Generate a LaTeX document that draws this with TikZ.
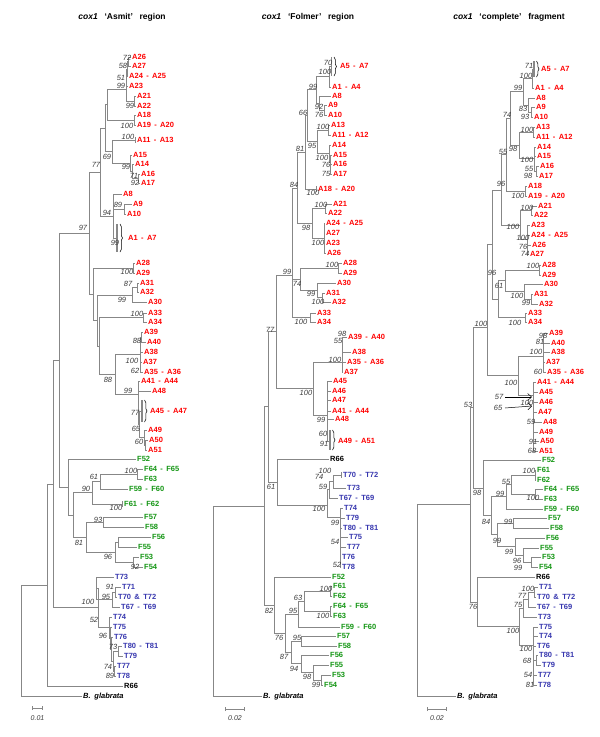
\documentclass[tikz,border=0pt]{standalone}
\usepackage{fontspec}
\setmainfont{Liberation Sans}
\usetikzlibrary{decorations.pathreplacing,arrows.meta}
\definecolor{lred}{RGB}{255,0,0}
\definecolor{lgreen}{RGB}{20,150,20}
\definecolor{lblue}{RGB}{55,55,175}
\definecolor{lgrey}{RGB}{135,135,135}
\definecolor{bsgrey}{RGB}{60,60,60}
\newcommand\dd{\hspace{0.45em}-\hspace{0.45em}}
\newcommand\br[2]{\foreach \q in {#2}{\draw[brl] (#1) |- (\q);}}
\newcommand\leaves[2]{\foreach \nm/\x/\y/\txt in {#2}{\coordinate (\nm) at ({\x-1.5},\y); \node[lab,#1,anchor=west] (\nm-l) at (\nm) {\txt};}}
\newcommand\boots[2]{\foreach \x/\y/\txt [count=\i] in {#2}{\node[bs] (#1\i) at (\x,\y) {\txt};}}
\begin{document}
\begin{tikzpicture}[x=1pt,y=-1pt,
  brl/.style={draw=lgrey,line width=0.6pt},
  lab/.style={font=\fontsize{7.5}{8}\selectfont\bfseries,inner xsep=1.5pt,inner ysep=0pt,text height=5.4pt,text depth=0pt},
  bs/.style={font=\fontsize{7.5}{8}\selectfont\itshape,text=bsgrey,inner sep=0pt},
  ttl/.style={font=\fontsize{8.5}{10}\selectfont\bfseries,inner sep=0pt},
  bar/.style={draw=lgrey,line width=1.4pt},
  brc/.style={draw=black,line width=0.5pt,decorate,decoration={brace,amplitude=2.5pt}},
  tick/.style={draw=lgrey,line width=0.6pt},
  sbar/.style={draw=lgrey,line width=0.6pt,{Bar[width=4pt]}-{Bar[width=4pt]}},
  sbl/.style={font=\fontsize{7}{8}\selectfont\itshape,text=bsgrey,inner sep=0pt},
  arw/.style={draw=black,line width=0.5pt,-{Straight Barb[length=4pt,width=7pt]}}]
\fill[white] (0,0) rectangle (600,737);
\useasboundingbox (0,0) rectangle (600,737);

% ---------------- titles
\node[ttl] (title1) at (122,17) {\textit{cox1}\hspace{0.8em}‘Asmit’\hspace{0.8em}region};
\node[ttl] (title2) at (308,17) {\textit{cox1}\hspace{0.8em}‘Folmer’\hspace{0.8em}region};
\node[ttl] (title3) at (509,17) {\textit{cox1}\hspace{0.8em}‘complete’\hspace{0.8em}fragment};

% ================= TREE 1
\leaves{text=lred}{aA26/132/57/A26, aA27/132/66/A27, aA24/129/76/{A24\dd A25}, aA23/129/86/A23, aA21/137/96/A21, aA22/137/106/A22, aA18/137/115/A18, aA19/137/125/{A19\dd A20}, aA11/137/140/{A11\dd A13}, aA15/133/155/A15, aA14/135/164/A14, aA16/141/174/A16, aA17/141/183/A17, aA8/123/194/A8, aA9/133/204/A9, aA10/127/214/A10, aA28/136/263/A28, aA29/136/273/A29, aA31/140/283/A31, aA32/140/292/A32, aA30/148/302/A30, aA33/148/313/A33, aA34/148/322/A34, aA39/144/332/A39, aA40/147/342/A40, aA38/144/352/A38, aA37/143/362/A37, aA35/144/372/{A35\dd A36}, aA41/141/381/{A41\dd A44}, aA48/152/391/A48, aA49/148/430/A49, aA50/149/440/A50, aA51/148/450/A51}
\leaves{text=lgreen}{aF52/137/459/F52, aF64/144/469/{F64\dd F65}, aF63/144/479/F63, aF59/129/489/{F59\dd F60}, aF61/124/504/{F61\dd F62}, aF57/144/517/F57, aF58/145/527/F58, aF56/152/537/F56, aF55/138/547/F55, aF53/140/557/F53, aF54/144/567/F54}
\leaves{text=lblue}{aT73/115/577/T73, aT71/122/587/T71, aT70/118/597/{T70\hspace{0.45em}\&\hspace{0.45em}T72}, aT67/121/607/{T67\dd T69}, aT74/113/617/T74, aT75/113/627/T75, aT76/114/637/T76, aT80/123/646/{T80\dd T81}, aT79/124/656/T79, aT77/117/666/T77, aT78/117/676/T78}
\leaves{text=black}{aR66/124/686/R66, aBg/83/696/{\itshape B.\hspace{0.5em}glabrata}}
% collapsed clades
\coordinate (aA1) at (117,238);
\coordinate (aA1t) at (117,224); \coordinate (aA1b) at (117,252);
\coordinate (aA1u) at (120,224); \coordinate (aA1d) at (120,252);
\draw[bar] (aA1t) -- (aA1b); \draw[brc] (aA1u) -- (aA1d);
\node[lab,text=lred,anchor=west] (aA1-l) at (126.5,238) {A1\dd A7};
\coordinate (aA45) at (142,411);
\coordinate (aA45t) at (142,400); \coordinate (aA45b) at (142,422);
\coordinate (aA45u) at (144.5,400); \coordinate (aA45d) at (144.5,422);
\draw[bar] (aA45t) -- (aA45b); \draw[brc] (aA45u) -- (aA45d);
\node[lab,text=lred,anchor=west] (aA45-l) at (148.5,411) {A45\dd A47};
\coordinate (aA11t) at (135.5,137); \coordinate (aA11b) at (135.5,143); \draw[tick] (aA11t) -- (aA11b);
\coordinate (aF61t) at (122.5,501); \coordinate (aF61b) at (122.5,507); \draw[tick] (aF61t) -- (aF61b);
% internal nodes
\coordinate (ata) at (128.5,61.5); \coordinate (atb) at (127,69); \coordinate (atc) at (126.5,77.5);
\coordinate (atA21) at (134.5,101); \coordinate (atd) at (126,89); \coordinate (ate) at (134,120);
\coordinate (atf) at (107,104.5); \coordinate (an1) at (138.5,178.5); \coordinate (an2) at (132.5,171.25);
\coordinate (an3) at (130,163.1); \coordinate (an4) at (112,151.5); \coordinate (atg) at (105,128);
\coordinate (atA9) at (124,209); \coordinate (atH) at (113,216); \coordinate (at77) at (100,172);
\coordinate (auA) at (133,268); \coordinate (auB) at (137,287.5); \coordinate (auC) at (132,295);
\coordinate (auD) at (143,317.5); \coordinate (auE) at (141.5,337); \coordinate (auF) at (140,354.5);
\coordinate (avA1) at (145.5,445); \coordinate (avA) at (144,437.5); \coordinate (avC) at (139.5,424);
\coordinate (avD) at (138.5,407.5); \coordinate (avE) at (138,394); \coordinate (avF) at (115,374);
\coordinate (avG) at (99,346); \coordinate (awA) at (97,320.5); \coordinate (awB) at (93,294);
\coordinate (at97) at (89,233);
\coordinate (afA) at (137,474); \coordinate (afB) at (100,481.5); \coordinate (afC) at (92,492.75);
\coordinate (afD) at (103,522); \coordinate (afE) at (118,542); \coordinate (afF) at (133,562);
\coordinate (afG) at (115,552); \coordinate (afH) at (86,537); \coordinate (afI) at (73,515);
\coordinate (afJ) at (68,487); \coordinate (aZ) at (59,360);
\coordinate (agA) at (115,592); \coordinate (agB) at (112,599.5); \coordinate (agC) at (96,588);
\coordinate (agD) at (118,651); \coordinate (agE) at (114.5,671); \coordinate (agF) at (113,661);
\coordinate (agG) at (111.5,649); \coordinate (agH) at (110.5,638); \coordinate (agI) at (109.5,627.5);
\coordinate (agJ) at (98,607.75); \coordinate (aY) at (53,484); \coordinate (aX) at (47,585);
\coordinate (aR1) at (21,640.5);
\br{ata}{aA26,aA27} \br{atb}{ata,aA24} \br{atc}{atb,aA23} \br{atA21}{aA21,aA22}
\br{atd}{atc,atA21} \br{ate}{aA18,aA19} \br{atf}{atd,ate} \br{an1}{aA16,aA17}
\br{an2}{aA14,an1} \br{an3}{aA15,an2} \br{an4}{aA11,an3} \br{atg}{atf,an4}
\br{atA9}{aA9,aA10} \br{atH}{aA8,atA9,aA1} \br{at77}{atg,atH}
\br{auA}{aA28,aA29} \br{auB}{aA31,aA32} \br{auC}{auB,aA30} \br{auD}{aA33,aA34}
\br{auE}{aA39,aA40} \br{auF}{auE,aA38,aA37,aA35} \br{avA1}{aA50,aA51} \br{avA}{aA49,avA1}
\br{avC}{aA45,avA} \br{avD}{aA48,avC} \br{avE}{aA41,avD} \br{avF}{auF,avE}
\br{avG}{auD,avF} \br{awA}{auC,avG} \br{awB}{auA,awA} \br{at97}{at77,awB}
\br{afA}{aF64,aF63} \br{afB}{afA,aF59} \br{afC}{afB,aF61} \br{afD}{aF57,aF58}
\br{afE}{aF56,aF55} \br{afF}{aF53,aF54} \br{afG}{afE,afF} \br{afH}{afD,afG}
\br{afI}{afC,afH} \br{afJ}{aF52,afI} \br{aZ}{at97,afJ}
\br{agA}{aT71,aT70} \br{agB}{agA,aT67} \br{agC}{aT73,agB} \br{agD}{aT80,aT79}
\br{agE}{aT77,aT78} \br{agF}{agD,agE} \br{agG}{aT76,agF} \br{agH}{aT75,agG}
\br{agI}{aT74,agH} \br{agJ}{agC,agI} \br{aY}{aZ,agJ} \br{aX}{aY,aR66} \br{aR1}{aX,aBg}
\boots{abs}{127/58/72, 123/66/58, 121/78/51, 121/86/99, 130/106/99, 127/126/100, 128/137/100, 107/157/69, 96/165/77, 126/167/99, 134/176/71, 135/183/92, 118/205/89, 107/213/94, 83/228/97, 115/243/99, 127/272/100, 128/284/87, 122/300/99, 137/314/100, 137/341/88, 132/361/100, 135/371/62, 108/380/88, 128/391/99, 135/413/77, 136/429/65, 139/442/60, 131/471/100, 94/477/61, 86/489/90, 116/508/100, 98/520/93, 79/543/81, 108/557/96, 135/567/92, 110/587/91, 106/597/95, 88/602/100, 94/620/52, 103/636/96, 113/647/73, 108/667/74, 110/676/89}
\coordinate (s1a) at (32,708); \coordinate (s1b) at (43,708); \draw[sbar] (s1a) -- (s1b);
\node[sbl] (s1l) at (37.5,718) {0.01};

% ================= TREE 2
\leaves{text=lred}{bA1/332/87/{A1\dd A4}, bA8/332/96/A8, bA9/328/105/A9, bA10/328/115/A10, bA13/331/125/A13, bA11/332/135/{A11\dd A12}, bA14/332/145/A14, bA15/333/155/A15, bA16/333/164/A16, bA17/333/174/A17, bA18/318/189/{A18\dd A20}, bA21/333/204/A21, bA22/328/213/A22, bA24/326/223/{A24\dd A25}, bA27/326/233/A27, bA23/326/243/A23, bA26/327/253/A26, bA28/343/263/A28, bA29/343/273/A29, bA30/337/283/A30, bA31/326/293/A31, bA32/332/302/A32, bA33/317/313/A33, bA34/317/322/A34, bA39/348/337/{A39\dd A40}, bA38/352/352/A38, bA35/347/362/{A35\dd A36}, bA37/344/372/A37, bA45/333/381/A45, bA46/332/391/A46, bA47/332/400/A47, bA41/332/411/{A41\dd A44}, bA48/335/419/A48}
\leaves{text=black}{bR66/330/459/R66, bBg/263/696/{\itshape B.\hspace{0.5em}glabrata}}
\leaves{text=lblue}{bT70/343/475/{T70\dd T72}, bT73/347/488/T73, bT67/339/498/{T67\dd T69}, bT74/344/508/T74, bT79/346/518/T79, bT80/343/528/{T80\dd T81}, bT75/349/537/T75, bT77/347/547/T77, bT76/342/557/T76, bT78/342/567/T78}
\leaves{text=lgreen}{bF52/332/577/F52, bF61/333/586/F61, bF62/333/596/F62, bF64/333/606/{F64\dd F65}, bF63/333/616/F63, bF59/341/627/{F59\dd F60}, bF57/337/636/F57, bF58/338/646/F58, bF56/330/655/F56, bF55/330/665/F55, bF53/332/675/F53, bF54/324/685/F54}
\coordinate (bA5) at (331.5,66);
\coordinate (bA5t) at (331.5,57); \coordinate (bA5b) at (331.5,76);
\coordinate (bA5u) at (334,57); \coordinate (bA5d) at (334,76);
\draw[bar] (bA5t) -- (bA5b); \draw[brc] (bA5u) -- (bA5d);
\node[lab,text=lred,anchor=west] (bA5-l) at (338.5,66) {A5\dd A7};
\coordinate (bA49) at (330,441);
\coordinate (bA49t) at (330,430); \coordinate (bA49b) at (330,450);
\coordinate (bA49u) at (332.5,430); \coordinate (bA49d) at (332.5,450);
\draw[bar] (bA49t) -- (bA49b); \draw[brc] (bA49u) -- (bA49d);
\node[lab,text=lred,anchor=west] (bA49-l) at (336.5,441) {A49\dd A51};
\coordinate (bA18t) at (316.5,186); \coordinate (bA18b) at (316.5,192); \draw[tick] (bA18t) -- (bA18b);
\coordinate (bT70t) at (341.5,472); \coordinate (bT70b) at (341.5,478); \draw[tick] (bT70t) -- (bT70b);
\coordinate (ba14) at (329,76.5); \coordinate (ba910) at (324.5,110); \coordinate (ba8) at (319,103);
\coordinate (ba110) at (316,89.75); \coordinate (ba1312) at (328,130); \coordinate (ba1617) at (330.5,169);
\coordinate (ba15) at (330,162); \coordinate (ba14b) at (329.5,153.5); \coordinate (ba1117) at (317,141.75);
\coordinate (ba117) at (307,115.75); \coordinate (ba120) at (305,152.4); \coordinate (ba2122) at (325,208.5);
\coordinate (ba2327) at (324,238); \coordinate (ba2127) at (312,223.25); \coordinate (ba127) at (297,187.8);
\coordinate (bb28) at (338,268); \coordinate (bb31) at (322,297.5); \coordinate (bb30) at (317,290);
\coordinate (bb2830) at (300,279); \coordinate (bb33) at (310,317.5); \coordinate (baR) at (292,275);
\coordinate (bc35) at (342,362); \coordinate (bc41) at (327,415); \coordinate (bcR) at (313,388);
\coordinate (bac) at (276,331);
\coordinate (bd73) at (333,481.5); \coordinate (bd67) at (329,489.75); \coordinate (bd74) at (340,517);
\coordinate (btT) at (327,505); \coordinate (brt) at (277,482); \coordinate (bM) at (268,406.5);
\coordinate (be6162) at (330,591); \coordinate (be6365) at (330,611); \coordinate (be6165) at (304,601);
\coordinate (be59) at (298,614); \coordinate (be5758) at (301,641); \coordinate (be5354) at (321,680);
\coordinate (be55) at (313,672.5); \coordinate (be56) at (301,663.75); \coordinate (be87) at (291,652);
\coordinate (be76) at (285,633); \coordinate (beF) at (274,605); \coordinate (bN) at (264,506);
\coordinate (bR2) at (213,601);
\br{ba14}{bA5,bA1} \br{ba910}{bA9,bA10} \br{ba8}{bA8,ba910} \br{ba110}{ba14,ba8}
\br{ba1312}{bA13,bA11} \br{ba1617}{bA16,bA17} \br{ba15}{bA15,ba1617} \br{ba14b}{bA14,ba15}
\br{ba1117}{ba1312,ba14b} \br{ba117}{ba110,ba1117} \br{ba120}{ba117,bA18}
\br{ba2122}{bA21,bA22} \br{ba2327}{bA24,bA27,bA23,bA26} \br{ba2127}{ba2122,ba2327}
\br{ba127}{ba120,ba2127} \br{bb28}{bA28,bA29} \br{bb31}{bA31,bA32} \br{bb30}{bA30,bb31}
\br{bb2830}{bb28,bb30} \br{bb33}{bA33,bA34} \br{baR}{ba127,bb2830,bb33}
\br{bc35}{bA39,bA38,bA35,bA37} \br{bc41}{bA45,bA46,bA47,bA41,bA48,bA49} \br{bcR}{bc35,bc41}
\br{bac}{baR,bcR} \br{bd73}{bT70,bT73} \br{bd67}{bd73,bT67}
\br{bd74}{bT74,bT79,bT80,bT75,bT77,bT76,bT78} \br{btT}{bd67,bd74} \br{brt}{bR66,btT}
\br{bM}{bac,brt} \br{be6162}{bF61,bF62} \br{be6365}{bF64,bF63} \br{be6165}{be6162,be6365}
\br{be59}{be6165,bF59} \br{be5758}{bF57,bF58} \br{be5354}{bF53,bF54} \br{be55}{bF55,be5354}
\br{be56}{bF56,be55} \br{be87}{be5758,be56} \br{be76}{be59,be87} \br{beF}{bF52,be76}
\br{bN}{bM,beF} \br{bR2}{bN,bBg}
\boots{bbs}{328/63/70, 325/72/100, 313/87/99, 319/107/92, 319/115/76, 323/127/100, 312/146/95, 300/149/81, 322/158/100, 326/165/76, 326/174/75, 294/185/84, 313/193/100, 303/113/66, 321/205/100, 306/228/98, 318/243/100, 332/265/100, 287/272/99, 297/284/74, 311/294/99, 318/302/100, 301/322/100, 270/330/77, 342/334/98, 338/341/55, 335/360/100, 306/393/100, 321/420/99, 323/434/60, 324/444/91, 325/471/100, 319/477/74, 323/487/59, 271/487/61, 319/509/100, 335/523/99, 335/542/54, 337/565/52, 326/589/100, 298/598/63, 293/611/95, 269/611/82, 323/616/100, 279/638/76, 297/638/95, 284/657/87, 294/669/94, 307/677/98, 316/685/99}
\coordinate (s2a) at (225,709); \coordinate (s2b) at (245,709); \draw[sbar] (s2a) -- (s2b);
\node[sbl] (s2l) at (235,718) {0.02};

% ================= TREE 3
\leaves{text=lred}{cA1/535/88/{A1\dd A4}, cA8/536/98/A8, cA9/536/107/A9, cA10/534/117/A10, cA13/536/127/A13, cA11/536/137/{A11\dd A12}, cA14/537/147/A14, cA15/537/156/A15, cA16/540/166/A16, cA17/539/176/A17, cA18/528/186/A18, cA19/528/196/{A19\dd A20}, cA21/538/206/A21, cA22/534/215/A22, cA23/531/225/A23, cA24/531/235/{A24\dd A25}, cA26/532/245/A26, cA27/530/254/A27, cA28/542/265/A28, cA29/542/275/A29, cA30/544/284/A30, cA31/534/294/A31, cA32/539/304/A32, cA33/528/313/A33, cA34/528/322/A34, cA39/549/333/A39, cA40/551/343/A40, cA38/551/352/A38, cA37/546/362/A37, cA35/547/372/{A35\dd A36}, cA41/537/382/{A41\dd A44}, cA45/539/392/A45, cA46/539/402/A46, cA47/538/412/A47, cA48/543/422/A48, cA49/539/432/A49, cA50/540/441/A50, cA51/539/451/A51}
\leaves{text=lgreen}{cF52/542/460/F52, cF61/537/470/F61, cF62/537/480/F62, cF64/544/489/{F64\dd F65}, cF63/544/499/F63, cF59/544/509/{F59\dd F60}, cF57/548/518/F57, cF58/550/528/F58, cF56/546/538/F56, cF55/540/548/F55, cF53/542/557/F53, cF54/539/567/F54}
\leaves{text=black}{cR66/536/577/R66, cBg/457/696/{\itshape B.\hspace{0.5em}glabrata}}
\leaves{text=lblue}{cT71/539/587/T71, cT70/537/597/{T70\hspace{0.45em}\&\hspace{0.45em}T72}, cT67/537/607/{T67\dd T69}, cT73/538/617/T73, cT75/539/627/T75, cT74/539/636/T74, cT76/537/646/T76, cT80/539/655/{T80\dd T81}, cT79/542/665/T79, cT77/538/675/T77, cT78/538/685/T78}
\coordinate (cA5) at (534,69);
\coordinate (cA5t) at (534,61); \coordinate (cA5b) at (534,77);
\coordinate (cA5u) at (536.5,61); \coordinate (cA5d) at (536.5,77);
\draw[bar] (cA5t) -- (cA5b); \draw[brc] (cA5u) -- (cA5d);
\node[lab,text=lred,anchor=west] (cA5-l) at (539.5,69) {A5\dd A7};
\coordinate (cg14) at (532,78.5); \coordinate (cg910) at (531,112); \coordinate (cg8) at (528,105);
\coordinate (cg110) at (523,91.75); \coordinate (cg1311) at (533,132); \coordinate (cg1617) at (536,171);
\coordinate (cg1417) at (534,158); \coordinate (cg1117) at (519,145); \coordinate (cg117) at (510,118.4);
\coordinate (cg1820) at (525,191); \coordinate (cg120) at (506,154.7); \coordinate (cg2122) at (531,210.5);
\coordinate (cg2327) at (527.5,239.5); \coordinate (cg2127) at (520,225); \coordinate (cg127) at (501,190);
\coordinate (ch2829) at (539,270); \coordinate (ch3132) at (531,299); \coordinate (ch30) at (524,291.5);
\coordinate (ch2832) at (505,280.75); \coordinate (ch3334) at (525,317.5); \coordinate (ch2834) at (498,299);
\coordinate (cgA) at (492,244.5); \coordinate (ci35) at (543,356); \coordinate (ci41) at (533,395);
\coordinate (ci3551) at (518,375); \coordinate (cjA) at (487,327);
\coordinate (ck6162) at (535,475); \coordinate (ck6365) at (535,494); \coordinate (ck6165) at (511,484.5);
\coordinate (ck59) at (506,496.75); \coordinate (ck5758) at (513,523); \coordinate (ck5354) at (531,562);
\coordinate (ck55) at (523,555); \coordinate (ck56) at (515,546.5); \coordinate (ck5756) at (497,534.75);
\coordinate (ck84) at (491,515.75); \coordinate (ckF) at (483,488); \coordinate (cK) at (473,407.5);
\coordinate (cl7172) at (534,592); \coordinate (cl67) at (528,599.5); \coordinate (cl73) at (523,608.25);
\coordinate (cl8079) at (536,660); \coordinate (cl75) at (533,645); \coordinate (clT) at (519,626.6);
\coordinate (clRT) at (477,601.8); \coordinate (cN3) at (470,504.6); \coordinate (cR3) at (417,600);
\br{cg14}{cA5,cA1} \br{cg910}{cA9,cA10} \br{cg8}{cA8,cg910} \br{cg110}{cg14,cg8}
\br{cg1311}{cA13,cA11} \br{cg1617}{cA16,cA17} \br{cg1417}{cA14,cA15,cg1617}
\br{cg1117}{cg1311,cg1417} \br{cg117}{cg110,cg1117} \br{cg1820}{cA18,cA19}
\br{cg120}{cg117,cg1820} \br{cg2122}{cA21,cA22} \br{cg2327}{cA23,cA24,cA26,cA27}
\br{cg2127}{cg2122,cg2327} \br{cg127}{cg120,cg2127} \br{ch2829}{cA28,cA29}
\br{ch3132}{cA31,cA32} \br{ch30}{cA30,ch3132} \br{ch2832}{ch2829,ch30} \br{ch3334}{cA33,cA34}
\br{ch2834}{ch2832,ch3334} \br{cgA}{cg127,ch2834} \br{ci35}{cA39,cA40,cA38,cA37,cA35}
\br{ci41}{cA41,cA45,cA46,cA47,cA48,cA49,cA50,cA51} \br{ci3551}{ci35,ci41} \br{cjA}{cgA,ci3551}
\br{ck6162}{cF61,cF62} \br{ck6365}{cF64,cF63} \br{ck6165}{ck6162,ck6365} \br{ck59}{ck6165,cF59}
\br{ck5758}{cF57,cF58} \br{ck5354}{cF53,cF54} \br{ck55}{cF55,ck5354} \br{ck56}{cF56,ck55}
\br{ck5756}{ck5758,ck56} \br{ck84}{ck59,ck5756} \br{ckF}{cF52,ck84} \br{cK}{cjA,ckF}
\br{cl7172}{cT71,cT70} \br{cl67}{cl7172,cT67} \br{cl73}{cl67,cT73} \br{cl8079}{cT80,cT79}
\br{cl75}{cT75,cT74,cT76,cl8079,cT77,cT78} \br{clT}{cl73,cl75} \br{clRT}{cR66,clT}
\br{cN3}{cK,clRT} \br{cR3}{cN3,cBg}
\boots{cbs}{529/66/71, 526/76/100, 518/88/99, 523/109/83, 525/117/93, 507/115/74, 527/130/100, 513/149/98, 503/152/55, 527/160/100, 529/169/55, 528/176/98, 501/184/96, 518/196/100, 527/208/100, 513/227/100, 523/238/100, 523/247/76, 525/254/74, 533/266/100, 492/273/96, 499/286/61, 517/296/100, 526/303/99, 515/323/100, 481/324/100, 543/336/98, 540/342/81, 536/352/100, 538/372/60, 511/383/100, 527/403/100, 531/422/59, 533/442/91, 532/451/68, 468/405/53, 529/471/100, 506/482/55, 533/498/100, 500/494/99, 477/493/98, 508/522/99, 486/522/84, 497/541/99, 509/552/99, 517/561/96, 518/568/99, 528/589/100, 522/596/77, 518/605/75, 473/607/76, 513/631/100, 526/649/100, 527/661/68, 528/675/54, 530/685/81}
\node[bs] (c57) at (499,397) {57};
\node[bs] (c65) at (498,408) {65};
\coordinate (c57s) at (505,397); \coordinate (c57e) at (532,397);
\coordinate (c65s) at (505,408); \coordinate (c65e) at (532,406);
\draw[arw] (c57s) -- (c57e); \draw[arw] (c65s) -- (c65e);
\coordinate (s3a) at (427,709); \coordinate (s3b) at (447,709); \draw[sbar] (s3a) -- (s3b);
\node[sbl] (s3l) at (437,718) {0.02};
\end{tikzpicture}
\end{document}
